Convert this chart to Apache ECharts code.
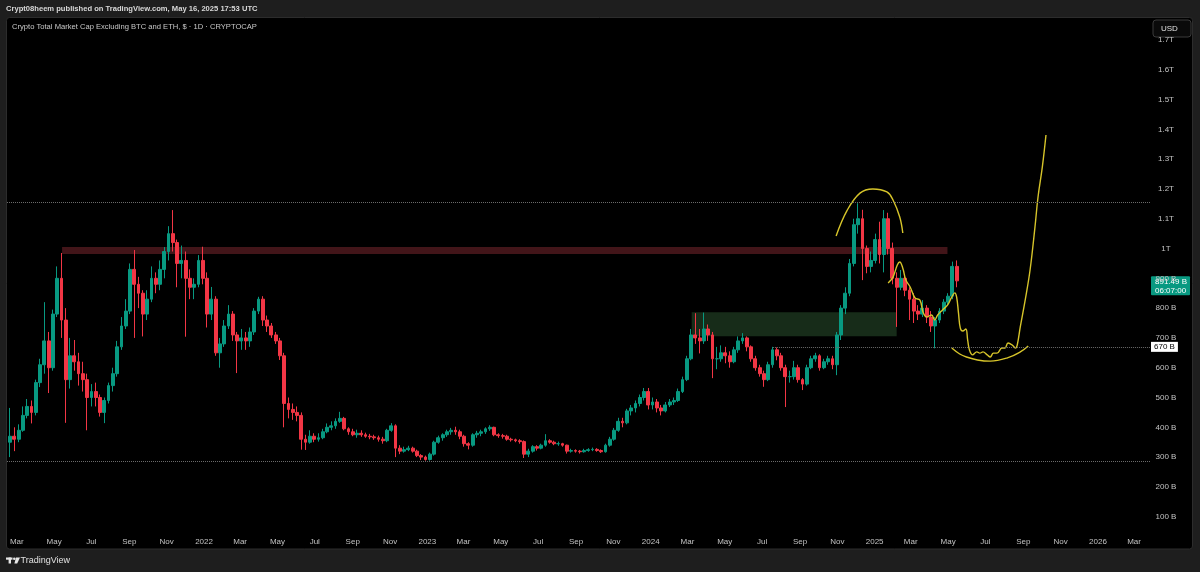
<!DOCTYPE html>
<html>
<head>
<meta charset="utf-8">
<title>Crypto Total Market Cap Excluding BTC and ETH</title>
<script src="https://cdn.jsdelivr.net/npm/echarts@6/dist/echarts.min.js"></script>
<style>
  html, body { margin: 0; padding: 0; background: #1e1e1e; }
  #chart { width: 1200px; height: 572px; }
</style>
</head>
<body>
<div id="chart"></div>
<script>
// weekly candles, [open, close, low, high] in billions of USD
const firstWeek = '2021-02-18'; // middle of the first week shown
const weeks2021 = [
  [350,370,300,465],[370,360,320,400],[360,390,350,410],[390,440,385,470],[440,470,430,495],
  [470,450,413,490],[450,550,440,560],[550,610,535,630],[610,690,580,820],[690,600,515,720],
  [600,780,590,795],[780,900,770,940],[900,760,700,985],[760,560,415,800],[560,640,530,700],
  [640,620,590,693],[620,580,540,650],[580,560,520,620],[560,500,390,580],[500,520,470,545],
  [520,500,470,550],[500,450,436,510],[450,490,414,500],[490,540,480,550],[540,580,520,600],
  [580,670,570,690],[670,740,660,770],[740,790,730,830],[790,930,780,950],[930,880,700,995],
  [880,850,800,905],[850,780,705,860],[780,830,760,860],[830,900,820,940],[900,880,850,920],
  [880,930,860,960],[930,990,900,1005],[990,1050,960,1075],[1050,1020,990,1129],[1020,950,870,1030],
  [950,960,900,1010],[960,900,704,990],[900,870,830,930],[870,880,830,900],[880,960,870,978],
  [960,900,880,1006]
];
const weeks2022 = [
  [900,780,735,920],[780,830,760,871],[830,650,640,840],[650,680,600,700],[680,740,670,760],
  [740,780,730,810],[780,710,690,790],[710,690,582,720],[690,700,660,730],[700,690,660,720],
  [690,720,670,735],[720,790,710,800],[790,830,780,838],[830,760,740,840],[760,740,720,775],
  [740,710,700,750],[710,690,680,720],[690,640,626,700],[640,480,400,650],[480,460,430,500],
  [460,450,425,480],[450,440,420,470],[440,360,325,450],[360,350,324,375],[350,370,345,390],
  [370,360,350,380],[360,365,352,380],[365,385,360,395],[385,400,380,413],[400,405,390,420],
  [405,420,395,430],[420,430,415,452],[430,395,390,435],[395,385,375,400],[385,375,370,395],
  [375,380,365,392],[380,375,368,390],[375,370,365,382],[370,368,360,378],[368,365,358,375],
  [365,360,352,372],[360,355,345,368],[355,390,350,395],[390,405,385,414],[405,330,300,410],
  [330,320,310,340],[320,325,315,335],[325,330,320,338],[330,320,315,335],[320,305,300,325],
  [305,300,290,310],[300,292,288,305]
];
const weeks2023 = [
  [292,310,288,315],[310,350,305,355],[350,365,345,372],[365,375,355,380],[375,385,368,392],
  [385,390,375,398],[390,385,375,402],[385,370,360,392],[370,345,335,375],[345,340,326,350],
  [340,375,335,380],[375,380,365,388],[380,385,370,392],[385,395,378,400],[395,400,388,407],
  [400,375,370,402],[375,372,365,380],[372,370,362,378],[370,360,355,375],[360,358,352,365],
  [358,355,350,362],[355,352,345,360],[352,310,297,356],[310,320,300,328],[320,335,315,340],
  [335,330,322,340],[330,340,326,345],[340,355,335,377],[355,350,345,360],[350,345,340,355],
  [345,345,338,352],[345,340,335,348],[340,320,312,342],[320,322,315,328],[322,320,315,326],
  [320,318,312,324],[318,322,315,328],[322,325,318,330],[325,326,320,332],[326,322,318,330],
  [322,318,314,326],[318,340,315,345],[340,360,335,368],[360,390,355,398],[390,420,385,432],
  [420,415,400,432],[415,455,410,462],[455,465,440,475],[465,480,450,490],[480,500,470,510],
  [500,520,490,532],[520,475,460,532]
];
const weeks2024 = [
  [475,485,460,500],[485,465,450,495],[465,455,440,475],[455,475,450,485],[475,485,468,495],
  [485,490,475,500],[490,520,485,530],[520,560,515,570],[560,630,555,640],[630,710,625,730],
  [710,700,680,783],[700,690,648,730],[690,730,680,785],[730,710,690,745],[710,630,565,720],
  [630,630,595,670],[630,650,620,675],[650,640,615,670],[640,620,600,655],[620,660,615,670],
  [660,690,650,705],[690,700,680,716],[700,670,655,705],[670,630,620,675],[630,600,590,640],
  [600,580,570,610],[580,560,536,590],[560,610,555,620],[610,660,600,670],[660,640,625,668],
  [640,600,590,650],[600,570,468,610],[570,570,550,590],[570,600,560,623],[600,560,550,610],
  [560,545,525,565],[545,600,540,610],[600,630,595,640],[630,640,620,650],[640,600,590,645],
  [600,620,595,630],[620,630,610,640],[630,610,595,640],[610,710,575,720],[710,800,693,810],
  [800,850,780,870],[850,950,840,965],[950,1080,940,1100],[1080,1100,1050,1152],[1100,1000,894,1130],
  [1000,940,917,1010],[940,960,920,990]
];
const weeks2025 = [
  [960,1030,950,1050],[1030,980,950,1090],[980,1100,920,1129],[1100,1000,980,1120],[1000,900,880,1020],
  [900,870,737,920],[870,900,860,928],[900,860,840,910],[860,830,760,870],[830,790,750,850],
  [790,780,760,810],[780,800,770,827],[800,770,750,810],[770,740,720,790],[740,760,665,770],
  [760,790,750,800],[790,820,780,830],[820,840,810,850],[840,940,830,956],[940,891.49,870,960]
];

// time scale tick labels
const tickDates = [
  '2021-03-01','2021-05-01','2021-07-01','2021-09-01','2021-11-01',
  '2022-01-01','2022-03-01','2022-05-01','2022-07-01','2022-09-01','2022-11-01',
  '2023-01-01','2023-03-01','2023-05-01','2023-07-01','2023-09-01','2023-11-01',
  '2024-01-01','2024-03-01','2024-05-01','2024-07-01','2024-09-01','2024-11-01',
  '2025-01-01','2025-03-01','2025-05-01','2025-07-01','2025-09-01','2025-11-01',
  '2026-01-01','2026-03-01'
];
const tickLabels = [
  'Mar','May','Jul','Sep','Nov',
  '2022','Mar','May','Jul','Sep','Nov',
  '2023','Mar','May','Jul','Sep','Nov',
  '2024','Mar','May','Jul','Sep','Nov',
  '2025','Mar','May','Jul','Sep','Nov',
  '2026','Mar'
];

// drawings on the chart
const resistanceZone = [['2021-05-14', 982], ['2025-04-30', 1005]];
const demandZone = [['2024-03-08', 706], ['2025-02-06', 786]];
const topLevel = 1155;
const floorLevel = 285;
const supportLevel = 670;
const supportStart = '2024-07-19';
const capArc = [
  ['2024-10-30',1042],['2024-11-17',1128],['2024-12-08',1186],['2024-12-29',1200],
  ['2025-01-21',1190],['2025-01-31',1163],['2025-02-11',1106],['2025-02-16',1052]
];
const projPath = [
  ['2025-01-23',884],['2025-01-31',904],['2025-02-07',945],['2025-02-11',955],['2025-02-16',934],
  ['2025-02-21',894],['2025-02-28',871],['2025-03-08',834],['2025-03-16',827],['2025-03-21',787],
  ['2025-03-27',770],['2025-04-04',777],['2025-04-09',760],['2025-04-14',777],['2025-04-22',794],
  ['2025-04-30',810],['2025-05-07',837],['2025-05-12',851],['2025-05-15',837],['2025-05-18',784],
  ['2025-05-21',733],['2025-05-25',723],['2025-05-30',730],['2025-06-02',693],['2025-06-05',659],
  ['2025-06-10',643],['2025-06-17',653],['2025-06-22',649],['2025-06-27',653],['2025-07-04',643],
  ['2025-07-09',636],['2025-07-14',649],['2025-07-20',649],['2025-07-28',666],['2025-08-02',666],
  ['2025-08-07',683],['2025-08-14',676],['2025-08-19',666],['2025-08-22',676],['2025-08-27',737],
  ['2025-09-04',827],['2025-09-12',928],['2025-09-20',1072],['2025-09-25',1173],['2025-10-02',1273],
  ['2025-10-08',1381]
];
const baseArc = [
  ['2025-05-07',666],['2025-05-20',646],['2025-05-31',636],['2025-06-18',626],
  ['2025-07-09',622],['2025-08-06',633],['2025-08-27',653],['2025-09-09',673]
];
const countdown = '06:07:00';

const ts = s => new Date(s + 'T00:00:00').getTime();
const DAY = 86400000;
const xMin = ts('2021-02-13');
const xMax = ts('2026-03-27');

const allWeeks = weeks2021.concat(weeks2022, weeks2023, weeks2024, weeks2025);
const candleData = allWeeks.map((w, i) => [ts(firstWeek) + i * 7 * DAY, w[0], w[1], w[2], w[3]]);
const lastPrice = allWeeks[allWeeks.length - 1][1];

const tickValues = tickDates.map(ts);
const tickText = {};
tickValues.forEach((v, i) => { tickText[v] = tickLabels[i]; });
const toPoints = arr => arr.map(p => [ts(p[0]), p[1]]);

const UP = '#089981';
const DOWN = '#f23645';
const TEXT = '#c3c3c3';
const FONT = 'Liberation Sans, Arial, sans-serif';
const YELLOW = '#d6c42a';

const myChart = echarts.init(document.getElementById('chart'));

// fixed page furniture: pane, header, title, currency button, logo
const furniture = [
  {
    type: 'rect', z: -10, silent: true,
    shape: { x: 6.5, y: 17.5, width: 1186, height: 531.5, r: 3 },
    style: { fill: '#000000', stroke: '#2c2c2c', lineWidth: 1 }
  },
  {
    type: 'text', x: 6, y: 5, silent: true,
    style: {
      text: 'Crypt08heem published on TradingView.com, May 16, 2025 17:53 UTC',
      fill: '#d8d8d8', font: 'bold 7.6px ' + FONT
    }
  },
  {
    type: 'text', x: 12, y: 23, silent: true,
    style: {
      text: 'Crypto Total Market Cap Excluding BTC and ETH, $ · 1D · CRYPTOCAP',
      fill: '#c8c8c8', font: '7.6px ' + FONT
    }
  },
  {
    type: 'group', x: 1153, y: 20, silent: true, z: 100,
    children: [
      { type: 'rect', shape: { x: 0, y: 0, width: 38, height: 17, r: 3 },
        style: { fill: '#0a0a0a', stroke: '#3a3a3a', lineWidth: 1 } },
      { type: 'text', x: 8, y: 4.5, style: { text: 'USD', fill: '#e0e0e0', font: '8px ' + FONT } }
    ]
  },
  {
    type: 'group', x: 6, y: 557.5, silent: true,
    children: [
      { type: 'rect', shape: { x: 0, y: 0, width: 6.5, height: 2.2 }, style: { fill: '#e6e6e6' } },
      { type: 'rect', shape: { x: 2.6, y: 0, width: 2.4, height: 6 }, style: { fill: '#e6e6e6' } },
      { type: 'circle', shape: { cx: 8.3, cy: 1.3, r: 1.3 }, style: { fill: '#e6e6e6' } },
      { type: 'polygon', shape: { points: [[10, 0], [14, 0], [11.2, 6], [8.4, 6]] }, style: { fill: '#e6e6e6' } },
      { type: 'text', x: 14.5, y: -1.5, style: { text: 'TradingView', fill: '#e0e0e0', font: '9px ' + FONT } }
    ]
  }
];

const option = {
  backgroundColor: '#1e1e1e',
  animation: false,
  grid: { left: 7, top: 17, width: 1143, height: 529.5 },
  xAxis: {
    // dates as timestamps on a plain value scale, so custom tick positions work
    type: 'value',
    min: xMin,
    max: xMax,
    axisLine: { show: false },
    axisTick: { show: false },
    splitLine: { show: false },
    axisLabel: {
      inside: true,
      margin: 1,
      color: TEXT,
      fontSize: 8,
      fontFamily: FONT,
      customValues: tickValues,
      formatter: v => tickText[v] || ''
    }
  },
  yAxis: {
    type: 'value',
    position: 'right',
    min: 0,
    max: 1777,
    interval: 100,
    axisLine: { show: false },
    axisTick: { show: false },
    splitLine: { show: false },
    axisLabel: {
      color: TEXT,
      fontSize: 8,
      fontFamily: FONT,
      align: 'center',
      margin: 16,
      showMinLabel: false,
      showMaxLabel: false,
      formatter: v => (v >= 1000 ? (v / 1000) + 'T' : v + ' B')
    }
  },
  series: [
    {
      // boxes and horizontal levels, drawn under the candles
      type: 'line',
      data: [],
      z: 1,
      silent: true,
      markArea: {
        silent: true,
        data: [
          [{ coord: [ts(resistanceZone[0][0]), resistanceZone[0][1]], itemStyle: { color: '#421519' } },
           { coord: [ts(resistanceZone[1][0]), resistanceZone[1][1]] }],
          [{ coord: [ts(demandZone[0][0]), demandZone[0][1]], itemStyle: { color: '#172c19' } },
           { coord: [ts(demandZone[1][0]), demandZone[1][1]] }]
        ]
      },
      markLine: {
        silent: true,
        symbol: ['none', 'none'],
        lineStyle: { color: '#6b6b6b', type: 'dotted', width: 1 },
        label: { show: false },
        data: [
          { yAxis: topLevel },
          { yAxis: floorLevel },
          [
            {
              coord: [ts(supportStart), supportLevel],
              label: {
                show: true,
                position: 'end',
                distance: 1,
                formatter: supportLevel + ' B',
                color: '#000',
                backgroundColor: '#ffffff',
                padding: [1, 3, 1, 3],
                fontSize: 8,
                fontFamily: FONT
              }
            },
            { coord: [xMax, supportLevel] }
          ]
        ]
      }
    },
    {
      type: 'candlestick',
      data: candleData,
      encode: { x: 0, y: [1, 2, 3, 4] },
      barWidth: 3.3,
      z: 3,
      itemStyle: {
        color: UP,
        color0: DOWN,
        borderColor: UP,
        borderColor0: DOWN,
        borderWidth: 1
      }
    },
    {
      type: 'line', data: toPoints(capArc), smooth: 0.4, showSymbol: false, silent: true, z: 4,
      lineStyle: { color: YELLOW, width: 1.4 }
    },
    {
      type: 'line', data: toPoints(projPath), smooth: 0.4, showSymbol: false, silent: true, z: 4,
      lineStyle: { color: YELLOW, width: 1.4 }
    },
    {
      type: 'line', data: toPoints(baseArc), smooth: 0.4, showSymbol: false, silent: true, z: 4,
      lineStyle: { color: YELLOW, width: 1.4 }
    }
  ],
  graphic: furniture
};

myChart.setOption(option);

// last price tag on the price scale, placed through the y scale
const yLast = myChart.convertToPixel({ yAxisIndex: 0 }, lastPrice);
option.graphic = furniture.concat([{
  type: 'group', x: 1151, y: yLast - 4.5, silent: true, z: 100,
  children: [
    { type: 'rect', shape: { x: 0, y: 0, width: 39, height: 19, r: 1 }, style: { fill: UP } },
    { type: 'text', x: 4, y: 1.5, style: { text: lastPrice + ' B', fill: '#ffffff', font: '8px ' + FONT } },
    { type: 'text', x: 4, y: 10.5, style: { text: countdown, fill: '#ffffff', font: '8px ' + FONT } }
  ]
}]);
myChart.setOption(option, true);

window.addEventListener('resize', function () {
  myChart.resize();
});
</script>
</body>
</html>
